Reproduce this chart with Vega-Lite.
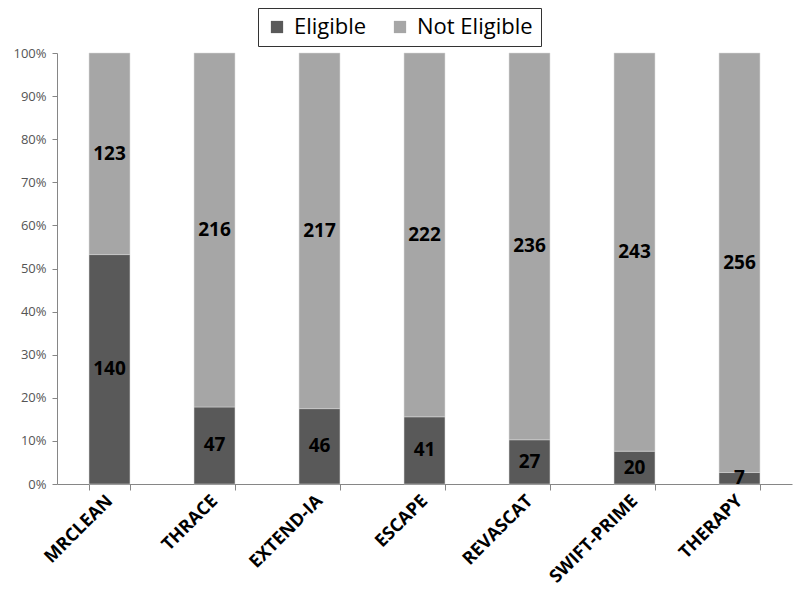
{
  "$schema": "https://vega.github.io/schema/vega-lite/v6.json",
  "width": 735,
  "height": 431,
  "autosize": {"type": "none"},
  "padding": {"left": 57, "top": 53, "right": 8, "bottom": 120},
  "background": "white",
  "config": {"view": {"stroke": null}, "font": "Lato"},
  "data": {
    "values": [
      {"trial": "MRCLEAN", "status": "Eligible", "count": 140},
      {"trial": "MRCLEAN", "status": "Not Eligible", "count": 123},
      {"trial": "THRACE", "status": "Eligible", "count": 47},
      {"trial": "THRACE", "status": "Not Eligible", "count": 216},
      {"trial": "EXTEND-IA", "status": "Eligible", "count": 46},
      {"trial": "EXTEND-IA", "status": "Not Eligible", "count": 217},
      {"trial": "ESCAPE", "status": "Eligible", "count": 41},
      {"trial": "ESCAPE", "status": "Not Eligible", "count": 222},
      {"trial": "REVASCAT", "status": "Eligible", "count": 27},
      {"trial": "REVASCAT", "status": "Not Eligible", "count": 236},
      {"trial": "SWIFT-PRIME", "status": "Eligible", "count": 20},
      {"trial": "SWIFT-PRIME", "status": "Not Eligible", "count": 243},
      {"trial": "THERAPY", "status": "Eligible", "count": 7},
      {"trial": "THERAPY", "status": "Not Eligible", "count": 256}
    ]
  },
  "transform": [
    {"stack": "count", "groupby": ["trial"], "sort": [{"field": "status", "order": "ascending"}], "offset": "normalize", "as": ["y0", "y1"]},
    {"calculate": "(datum.y0 + datum.y1) / 2", "as": "ymid"}
  ],
  "encoding": {
    "x": {
      "field": "trial",
      "type": "nominal",
      "sort": null,
      "title": null,
      "scale": {"paddingInner": 0.61, "paddingOuter": 0.305},
      "axis": {
        "labelAngle": -45,
        "labelAlign": "right",
        "labelBaseline": "middle",
        "labelFont": "Open Sans",
        "labelFontWeight": "bold",
        "labelFontSize": 18,
        "labelColor": "#000000",
        "labelPadding": 8,
        "tickBand": "extent",
        "tickSize": 6,
        "tickColor": "#868686",
        "domainColor": "#868686"
      }
    }
  },
  "layer": [
    {
      "mark": {"type": "bar", "stroke": "#d9d9d9", "strokeWidth": 0.5},
      "encoding": {
        "y": {
          "field": "y0",
          "type": "quantitative",
          "title": null,
          "scale": {"domain": [0, 1], "nice": false},
          "axis": {
            "format": ".0%",
            "values": [0, 0.1, 0.2, 0.3, 0.4, 0.5, 0.6, 0.7, 0.8, 0.9, 1],
            "grid": false,
            "labelFontSize": 13,
            "labelColor": "#555555",
            "labelFont": "Open Sans",
            "tickSize": 5,
            "tickColor": "#868686",
            "domainColor": "#868686",
            "labelPadding": 6
          }
        },
        "y2": {"field": "y1"},
        "color": {
          "field": "status",
          "type": "nominal",
          "scale": {"domain": ["Eligible", "Not Eligible"], "range": ["#595959", "#a6a6a6"]},
          "legend": {
            "title": null,
            "orient": "none",
            "direction": "horizontal",
            "legendX": 201,
            "legendY": -45,
            "symbolType": "square",
            "symbolSize": 150,
            "symbolStrokeWidth": 0,
            "labelFontSize": 22,
            "labelFont": "Open Sans",
            "labelColor": "#000000",
            "labelOffset": 6,
            "columnPadding": 22,
            "padding": 8,
            "strokeColor": "#333333",
            "fillColor": "white"
          }
        }
      }
    },
    {
      "mark": {"type": "text", "fontSize": 19, "fontWeight": "bold", "font": "Open Sans", "color": "#000000", "baseline": "middle"},
      "encoding": {
        "y": {"field": "ymid", "type": "quantitative"},
        "text": {"field": "count", "type": "quantitative"}
      }
    }
  ]
}
